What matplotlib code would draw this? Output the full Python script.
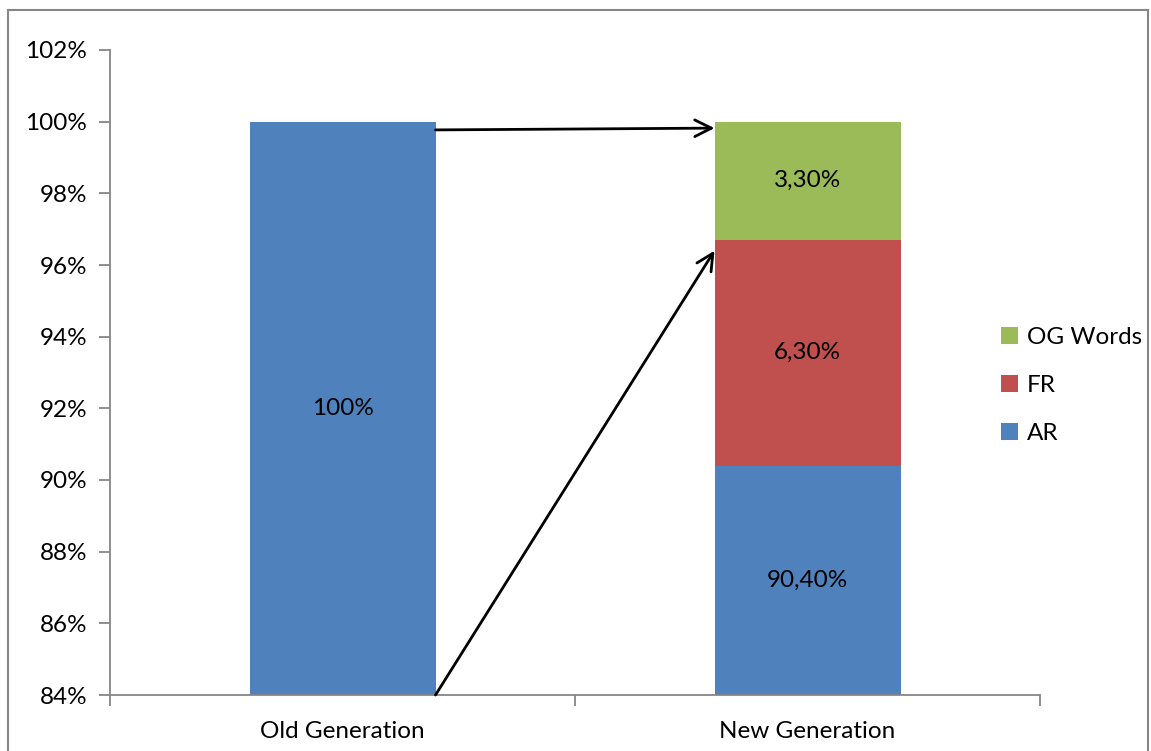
import matplotlib.pyplot as plt
from matplotlib.patches import Rectangle

plt.rcParams['font.family'] = ['Lato', 'DejaVu Sans']

categories = ['Old Generation', 'New Generation']
ar = [100.0, 90.4]
fr = [0.0, 6.3]
og = [0.0, 3.3]
ar_labels = ['100%', '90,40%']
fr_labels = ['', '6,30%']
og_labels = ['', '3,30%']
yticks = [84, 86, 88, 90, 92, 94, 96, 98, 100, 102]

blue = '#4F81BD'
red = '#C0504D'
green = '#9BBB59'
grey = '#868686'
fs = 17.5

fig = plt.figure(figsize=(11.51, 7.51), dpi=100)
ax = fig.add_axes([110/1151, 56/751, 930/1151, 645/751])

ymin = yticks[0]
x = list(range(len(categories)))
w = 0.4
ar_h = [v - ymin for v in ar]
b1 = ax.bar(x, ar_h, w, bottom=ymin, color=blue, label='AR')
b2 = ax.bar(x, fr, w, bottom=ar, color=red, label='FR')
top = [a + f for a, f in zip(ar, fr)]
b3 = ax.bar(x, og, w, bottom=top, color=green, label='OG Words')

for i in x:
    ax.text(i, (ymin + ar[i]) / 2, ar_labels[i], ha='center', va='center', fontsize=fs)
    if fr[i] > 0:
        ax.text(i, ar[i] + fr[i] / 2, fr_labels[i], ha='center', va='center', fontsize=fs)
    if og[i] > 0:
        ax.text(i, top[i] + og[i] / 2, og_labels[i], ha='center', va='center', fontsize=fs)

# arrows from old bar to new bar
ax.annotate('', xy=(1 - w / 2, 99.82), xytext=(w / 2, 99.77),
            arrowprops=dict(arrowstyle='->', color='black', lw=2,
                            mutation_scale=30, shrinkA=0, shrinkB=0))
ax.annotate('', xy=(1 - w / 2, 96.4), xytext=(w / 2, ymin),
            arrowprops=dict(arrowstyle='->', color='black', lw=2,
                            mutation_scale=30, shrinkA=0, shrinkB=0))

ax.set_xlim(-0.5, 1.5)
ax.set_ylim(ymin, yticks[-1])
ax.set_yticks(yticks)
ax.set_yticklabels([f'{t}%' for t in yticks], fontsize=fs)
ax.set_xticks([-0.5, 0.5, 1.5])
ax.set_xticklabels([])
ax.set_xticks(x, minor=True)
ax.set_xticklabels(categories, minor=True, fontsize=fs)
ax.tick_params(axis='x', which='minor', length=0, pad=19)
ax.tick_params(axis='x', which='major', length=8, color=grey, width=1.3)
ax.tick_params(axis='y', length=8, color=grey, width=1.3, pad=8.5)

for s in ['top', 'right']:
    ax.spines[s].set_visible(False)
for s in ['left', 'bottom']:
    ax.spines[s].set_color(grey)
    ax.spines[s].set_linewidth(1.3)

ax.legend(handles=[b3, b2, b1], loc='center left', bbox_to_anchor=(0.935, 0.48),
          frameon=False, fontsize=fs, handlelength=0.7, handleheight=0.7,
          handletextpad=0.35, labelspacing=1.1)

fig.add_artist(Rectangle((8/1151, -0.01), 1140/1151, 1 - 10/751 + 0.01,
                         transform=fig.transFigure, fill=False,
                         edgecolor=grey, lw=1.5))

fig.savefig('out.png', dpi=100)
